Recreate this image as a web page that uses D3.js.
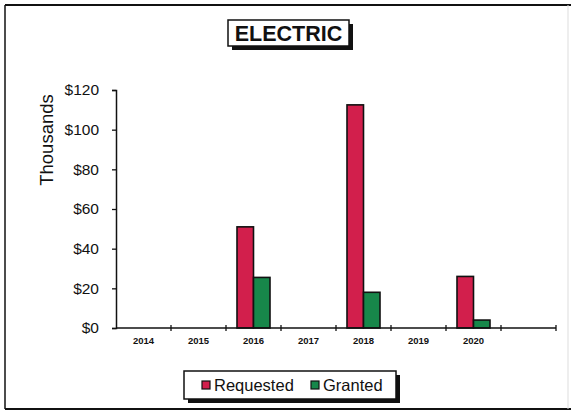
<!DOCTYPE html>
<html>
<head>
<meta charset="utf-8">
<script src="https://cdn.jsdelivr.net/npm/d3@7"></script>
<style>
  html, body { margin: 0; padding: 0; background: #fff; }
  svg { display: block; font-family: Arial, "Liberation Sans", sans-serif; }
</style>
</head>
<body>
<svg id="chart" width="571" height="412"></svg>
<script>
// Category slots (the last slot is left empty on the axis)
const years = ["2014", "2015", "2016", "2017", "2018", "2019", "2020", ""];
// Amounts in thousands of dollars
const requested = [0, 0, 51, 0, 112.5, 0, 26];
const granted = [0, 0, 25.5, 0, 18, 0, 4];
const seriesNames = ["Requested", "Granted"];
const seriesColors = ["#d21f4c", "#17874a"];
const yTicks = [0, 20, 40, 60, 80, 100, 120];

const svg = d3.select("#chart");

// Outer frame
svg.append("line").attr("x1", 5).attr("x2", 571).attr("y1", 5).attr("y2", 5)
  .attr("stroke", "#111").attr("stroke-width", 2);
svg.append("line").attr("x1", 5).attr("x2", 5).attr("y1", 5).attr("y2", 409)
  .attr("stroke", "#111").attr("stroke-width", 1.5);
svg.append("line").attr("x1", 5).attr("x2", 571).attr("y1", 409).attr("y2", 409)
  .attr("stroke", "#111").attr("stroke-width", 2);
svg.append("line").attr("x1", 568).attr("x2", 568).attr("y1", 5).attr("y2", 409)
  .attr("stroke", "#ddd").attr("stroke-width", 1);

const x0 = d3.scaleBand().domain(years).range([116, 556]).padding(0);
const x1 = d3.scaleBand().domain(seriesNames).range([-16.5, 16.5]).padding(0);
const y = d3.scaleLinear().domain([0, 120]).range([328, 90]);

// Bars
const rows = years.slice(0, requested.length).map((yr, i) => ({
  year: yr,
  values: [
    { name: seriesNames[0], v: requested[i] },
    { name: seriesNames[1], v: granted[i] }
  ]
}));

const groups = svg.append("g").selectAll("g").data(rows).join("g")
  .attr("transform", d => `translate(${x0(d.year) + x0.bandwidth() / 2},0)`);

groups.selectAll("rect").data(d => d.values).join("rect")
  .attr("x", d => x1(d.name))
  .attr("width", x1.bandwidth())
  .attr("y", d => y(d.v))
  .attr("height", d => y(0) - y(d.v))
  .attr("fill", (d, i) => seriesColors[i])
  .attr("stroke", "#111")
  .attr("stroke-width", 1.6);

// Y axis
const yAxis = d3.axisLeft(y).tickValues(yTicks).tickFormat(d => "$" + d).tickSize(4).tickSizeOuter(4);
const gy = svg.append("g").attr("transform", "translate(116,0)").call(yAxis);
gy.select(".domain").attr("stroke", "#111").attr("stroke-width", 1.5);
gy.selectAll(".tick line").attr("stroke", "#111").attr("stroke-width", 1.3);
gy.selectAll(".tick text").attr("x", -17).attr("font-size", 15.5).attr("fill", "#111")
  .attr("font-family", "Arial, 'Liberation Sans', sans-serif");

// X axis with ticks at slot boundaries
const gx = svg.append("g").attr("transform", `translate(0,${y(0)})`);
gx.append("line").attr("x1", 116).attr("x2", 556).attr("y1", 0).attr("y2", 0)
  .attr("stroke", "#111").attr("stroke-width", 1.6);
const bounds = years.map(d => x0(d)).concat([x0.range()[1]]);
gx.selectAll("line.tk").data(bounds.slice(1)).join("line").attr("class", "tk")
  .attr("x1", d => d).attr("x2", d => d).attr("y1", -3).attr("y2", 3)
  .attr("stroke", "#111").attr("stroke-width", 1.3);
gx.selectAll("text").data(years).join("text")
  .attr("x", d => x0(d) + x0.bandwidth() / 2)
  .attr("y", 16)
  .attr("text-anchor", "middle")
  .attr("font-size", 9.5)
  .attr("font-weight", "bold")
  .attr("fill", "#111")
  .text(d => d);

// Y axis title
svg.append("text")
  .attr("transform", "translate(53,140) rotate(-90)")
  .attr("text-anchor", "middle")
  .attr("font-size", 18.5)
  .attr("fill", "#111")
  .text("Thousands");

// Title box with drop shadow
const title = svg.append("g");
title.append("rect").attr("x", 232).attr("y", 24).attr("width", 121).attr("height", 26).attr("fill", "#111");
title.append("rect").attr("x", 228).attr("y", 20).attr("width", 121).attr("height", 26)
  .attr("fill", "#fff").attr("stroke", "#111").attr("stroke-width", 1.5);
title.append("text").attr("x", 288.5).attr("y", 41).attr("text-anchor", "middle")
  .attr("font-size", 21.5).attr("font-weight", "bold").attr("fill", "#111").text("ELECTRIC");

// Legend box with drop shadow
const legend = svg.append("g");
legend.append("rect").attr("x", 188).attr("y", 375).attr("width", 212).attr("height", 28).attr("fill", "#111");
legend.append("rect").attr("x", 184).attr("y", 371).attr("width", 212).attr("height", 28)
  .attr("fill", "#fff").attr("stroke", "#111").attr("stroke-width", 1.5);
const legendX = [202, 311];
seriesNames.forEach((name, i) => {
  legend.append("rect").attr("x", legendX[i]).attr("y", 381).attr("width", 8).attr("height", 8)
    .attr("fill", seriesColors[i]).attr("stroke", "#111").attr("stroke-width", 1.2);
  legend.append("text").attr("x", legendX[i] + 12).attr("y", 391)
    .attr("font-size", 16.5).attr("fill", "#111").text(name);
});
</script>
</body>
</html>
